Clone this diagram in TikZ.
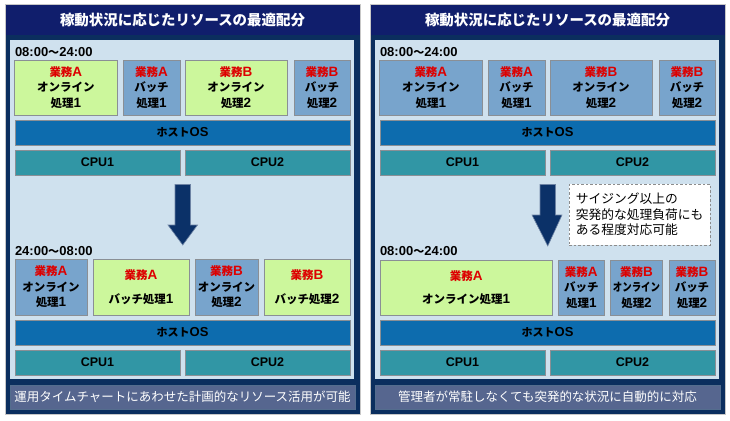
\documentclass[tikz,border=0pt]{standalone}
\usepackage{fontspec}
\usepackage{graphicx}
\setmainfont{Liberation Sans}
\newfontfamily\jp[Scale=0.85]{Noto Sans CJK JP}
\newcommand\J[1]{{\jp #1}}
\definecolor{navyT}{HTML}{101E6C}
\definecolor{navyB}{HTML}{0B2E5E}
\definecolor{innerc}{HTML}{CFE1EE}
\definecolor{grn}{HTML}{CCF79C}
\definecolor{blu}{HTML}{78A4CC}
\definecolor{hostc}{HTML}{0D6CAE}
\definecolor{cpuc}{HTML}{3196A5}
\definecolor{footc}{HTML}{56668F}
\definecolor{arrowc}{HTML}{0B3168}
\definecolor{boxline}{HTML}{8A8F95}
\definecolor{jred}{HTML}{DD0000}
\tikzset{
  every node/.style={inner sep=0pt, outer sep=0pt},
  outerbox/.style={fill=navyB, draw=black!22, line width=1pt},
  titlebar/.style={fill=navyT, text=white, font=\bfseries\fontsize{17}{18}\selectfont},
  innerbox/.style={fill=innerc},
  footbar/.style={fill=footc, draw=navyB!70!white, line width=0.6pt, text=white, font=\fontsize{14.7}{16}\selectfont},
  jobbox/.style={draw=boxline, line width=0.8pt, align=center, font=\bfseries\fontsize{13.5}{15.5}\selectfont},
  gbox/.style={jobbox, fill=grn},
  bbox/.style={jobbox, fill=blu},
  hostbar/.style={fill=hostc, draw=boxline, line width=0.8pt, font=\bfseries\fontsize{13}{14}\selectfont},
  cpubar/.style={fill=cpuc, draw=boxline, line width=0.8pt, font=\bfseries\fontsize{12.5}{14}\selectfont},
  timelabel/.style={anchor=west, font=\bfseries\fontsize{13}{14}\selectfont},
  notebox/.style={fill=white, draw=black!45, dash pattern=on 2.5pt off 2pt, line width=1pt, align=left, font=\fontsize{15}{15.5}\selectfont},
  bigarrow/.style={fill=arrowc, draw=arrowc!60!white, line width=0.6pt}
}
\newcommand\bx[7]{%
  \pgfmathsetmacro\bxw{#4-#2}\pgfmathsetmacro\bxh{#5-#3}%
  \pgfmathsetmacro\bxcx{(#2+#4)/2}\pgfmathsetmacro\bxcy{(#3+#5)/2}%
  \node[#6, minimum width=\bxw pt, minimum height=\bxh pt] (#1) at (\bxcx,\bxcy) {#7};}
\newcommand\red[1]{\textcolor{jred}{\J{業務}#1}}
\newcommand\frameP[3]{%
  \bx{#1out}{5}{5}{360}{414}{outerbox}{}
  \bx{#1title}{5.5}{5.5}{359.5}{35}{titlebar}{\J{#2}}
  \bx{#1in}{10}{40}{354}{379}{innerbox}{}
  \bx{#1foot}{10}{385}{355}{409}{footbar}{\J{#3}}
  \bx{#1hostA}{15}{120}{350}{145}{hostbar}{\J{ホスト}OS}
  \bx{#1cpuA1}{15}{150}{180}{175}{cpubar}{CPU1}
  \bx{#1cpuA2}{185}{150}{350}{175}{cpubar}{CPU2}
  \bx{#1hostB}{15}{320}{350}{345}{hostbar}{\J{ホスト}OS}
  \bx{#1cpuB1}{15}{350}{180}{375}{cpubar}{CPU1}
  \bx{#1cpuB2}{185}{350}{350}{375}{cpubar}{CPU2}
}
\begin{document}
\begin{tikzpicture}[x=1pt,y=-1pt]
\useasboundingbox[fill=white] (0,0) rectangle (730,420);
% ---------------- left panel ----------------
\frameP{L}{稼動状況に応じたリソースの最適配分}{運用タイムチャートにあわせた計画的なリソース活用が可能}
\node[timelabel] (Lt1) at (15,52) {08:00\J{〜}24:00};
\bx{La1}{14.7}{60}{117}{115}{gbox}{\red{A}\\\J{オンライン}\\\J{処理}1}
\bx{La2}{123}{60}{180}{115}{bbox}{\red{A}\\\J{バッチ}\\\J{処理}1}
\bx{La3}{185}{60}{287}{115}{gbox}{\red{B}\\\J{オンライン}\\\J{処理}2}
\bx{La4}{294}{60}{350}{115}{bbox}{\red{B}\\\J{バッチ}\\\J{処理}2}
\fill[bigarrow] (175,184.5) -- (190.5,184.5) -- (190.5,225) -- (197.5,225) -- (182.75,245) -- (168,225) -- (175,225) -- cycle;
\node[timelabel] (Lt2) at (15,251) {24:00\J{〜}08:00};
\bx{Lb1}{15}{259}{87}{315}{bbox}{\red{A}\\\J{オンライン}\\\J{処理}1}
\bx{Lb2}{93}{259}{189}{315}{gbox}{\red{A}\\[8pt]\J{バッチ処理}1}
\bx{Lb3}{195}{259}{258}{315}{bbox}{\red{B}\\\J{オンライン}\\\J{処理}2}
\bx{Lb4}{264}{259}{350}{315}{gbox}{\red{B}\\[8pt]\J{バッチ処理}2}
% ---------------- right panel ----------------
\begin{scope}[xshift=365pt]
\frameP{R}{稼動状況に応じたリソースの最適配分}{管理者が常駐しなくても突発的な状況に自動的に対応}
\node[timelabel] (Rt1) at (15,52) {08:00\J{〜}24:00};
\bx{Ra1}{14.7}{60}{117}{115}{bbox}{\red{A}\\\J{オンライン}\\\J{処理}1}
\bx{Ra2}{123}{60}{180}{115}{bbox}{\red{A}\\\J{バッチ}\\\J{処理}1}
\bx{Ra3}{185}{60}{287}{115}{bbox}{\red{B}\\\J{オンライン}\\\J{処理}2}
\bx{Ra4}{294}{60}{350}{115}{bbox}{\red{B}\\\J{バッチ}\\\J{処理}2}
\fill[bigarrow] (175,184.5) -- (190.5,184.5) -- (190.5,215) -- (197,215) -- (182.75,246) -- (167,215) -- (175,215) -- cycle;
\bx{Rnote}{204}{184}{345}{245}{notebox}{\J{サイジング以上の}\\\J{突発的な処理負荷にも}\\\J{ある程度対応可能}}
\node[timelabel] (Rt2) at (15,251) {08:00\J{〜}24:00};
\bx{Rb1}{15}{260}{187.3}{315}{gbox}{\red{A}\\[8pt]\J{オンライン処理}1}
\bx{Rb2}{193.3}{260}{239.3}{315}{bbox}{\red{A}\\\J{バッチ}\\\J{処理}1}
\bx{Rb3}{245.3}{260}{297.7}{315}{bbox}{\red{B}\\\scalebox{0.82}[1]{\J{オンライン}}\\\J{処理}2}
\bx{Rb4}{304}{260}{350}{315}{bbox}{\red{B}\\\J{バッチ}\\\J{処理}2}
\end{scope}
\end{tikzpicture}
\end{document}
